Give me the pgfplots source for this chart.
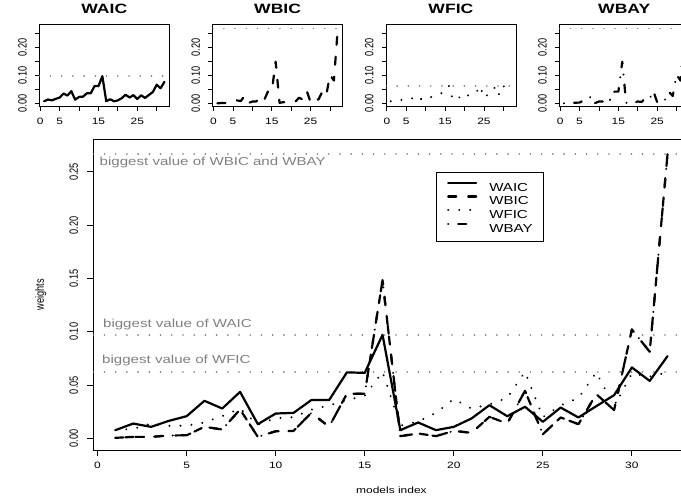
\documentclass[border=0pt]{standalone}
\usepackage{pgfplots}
\pgfplotsset{compat=1.18}
\usepackage{pgfplotstable}
\usepackage{graphicx}
\usepackage{fontspec}
\setmainfont{Liberation Sans}[FakeStretch=1.3]
\newfontfamily\plainsans{Liberation Sans}
\definecolor{rgray}{RGB}{128,128,128}
\newcommand{\tk}{\fontsize{9.2}{10}\selectfont}
\newcommand{\yl}[1]{\rotatebox{90}{\scalebox{1}[1.3]{\plainsans\fontsize{9.2}{10}\selectfont #1}}}

\pgfplotstableread{
x waic wbic wfic wbay
1 0.0078 0.0006 0.008 0.0006
2 0.0140 0.0015 0.009 0.0015
3 0.0109 0.0015 0.014 0.0015
4 0.0165 0.0028 0.012 0.0028
5 0.0209 0.0030 0.012 0.0030
6 0.0353 0.0110 0.015 0.0110
7 0.0281 0.0084 0.021 0.0084
8 0.0437 0.0272 0.028 0.0272
9 0.0134 0.0015 0.013 0.0015
10 0.0234 0.0068 0.019 0.0068
11 0.0240 0.0071 0.020 0.0071
12 0.0360 0.0240 0.027 0.0240
13 0.0360 0.0110 0.031 0.0110
14 0.0620 0.0420 0.036 0.0420
15 0.0615 0.0420 0.040 0.0420
16 0.0972 0.1485 0.0625 0.1485
17 0.0078 0.0022 0.012 0.0022
18 0.0150 0.0047 0.016 0.0047
19 0.0078 0.0022 0.024 0.0022
20 0.0109 0.0071 0.037 0.0071
21 0.0188 0.0053 0.028 0.0053
22 0.0312 0.0203 0.032 0.0203
23 0.0209 0.0140 0.038 0.0140
24 0.0297 0.0447 0.0625 0.0447
25 0.0156 0.0040 0.020 0.0040
26 0.0290 0.0197 0.031 0.0197
27 0.0197 0.0134 0.038 0.0134
28 0.0303 0.0416 0.062 0.0416
29 0.0406 0.0266 0.030 0.0266
30 0.0666 0.1022 0.061 0.1022
31 0.0540 0.0813 0.058 0.0813
32 0.0772 0.2665 0.062 0.2665
}\wdata

\pgfplotsset{
  waic/.style={black, line width=2.2pt, solid, line join=round, line cap=round},
  wbic/.style={black, line width=2.2pt, line join=round, line cap=round, dash pattern=on 8pt off 12pt},
  wfic/.style={black, line width=2.2pt, line join=round, line cap=round, dash pattern=on 0.01pt off 11pt},
  wbay/.style={black, line width=2.2pt, line join=round, line cap=round, dash pattern=on 0.01pt off 10pt on 8pt off 10.7pt},
  maxline/.style={rgray, line width=1.8pt, line cap=round, dash pattern=on 0.01pt off 11.2pt, forget plot},
  rbase/.style={
    scale only axis,
    xmin=-0.24, xmax=33.24, ymin=-0.0108, ymax=0.2808,
    axis line style={line width=0.8pt},
    tick style={line width=0.8pt, black},
    tick align=outside, tick pos=left,
    xtick={0,5,10,15,20,25,30},
    ytick={0,0.05,0.1,0.15,0.2,0.25},
    xticklabel style={font=\tk, inner sep=0pt, anchor=north},
    yticklabel style={inner sep=0pt, anchor=east},
  },
  small/.style={
    rbase, width=130pt, height=82pt,
    major tick length=4.3pt,
    xticklabels={0,5,,15,,25,},
    yticklabels={\yl{0.00},,\yl{0.10},,\yl{0.20},},
    xticklabel style={yshift=-7pt},
    yticklabel style={xshift=-8pt},
    title style={at={(axis description cs:0.5,1)}, anchor=center, yshift=9.5pt, inner sep=0pt, font=\bfseries\fontsize{13.5}{14}\selectfont},
  },
}

\begin{document}
\begin{tikzpicture}
\useasboundingbox (0pt,0pt) rectangle (681pt,498pt);
\clip (0pt,0pt) rectangle (681pt,498pt);

% ---------- small panels ----------
\begin{axis}[small, at={(39.3pt,391.5pt)}, anchor=south west, title={WAIC}]
  \addplot[maxline] coordinates {(-0.24,0.0972) (33.24,0.0972)};
  \addplot[waic] table[x=x, y=waic] {\wdata};
\end{axis}
\begin{axis}[small, at={(212.6pt,391.5pt)}, anchor=south west, title={WBIC}]
  \addplot[maxline] coordinates {(-0.24,0.2665) (33.24,0.2665)};
  \addplot[wbic] table[x=x, y=wbic] {\wdata};
\end{axis}
\begin{axis}[small, at={(385.9pt,391.5pt)}, anchor=south west, title={WFIC}]
  \addplot[maxline] coordinates {(-0.24,0.0625) (33.24,0.0625)};
  \addplot[wfic] table[x=x, y=wfic] {\wdata};
\end{axis}
\begin{axis}[small, at={(559.2pt,391.5pt)}, anchor=south west, title={WBAY}]
  \addplot[maxline] coordinates {(-0.24,0.2665) (33.24,0.2665)};
  \addplot[wbay] table[x=x, y=wbay] {\wdata};
\end{axis}

% ---------- main panel ----------
\begin{axis}[rbase, at={(93.3pt,48pt)}, anchor=south west,
  width=596.3pt, height=311pt,
  major tick length=6pt,
  xticklabels={0,5,10,15,20,25,30},
  yticklabels={\yl{0.00},\yl{0.05},\yl{0.10},\yl{0.15},\yl{0.20},\yl{0.25}},
  xticklabel style={yshift=-6pt},
  yticklabel style={xshift=-9pt},
  xlabel={models index},
  xlabel style={at={(axis description cs:0.5,-0.13)}, anchor=center, inner sep=0pt, font=\tk},
  ylabel={\scalebox{1}[1.3]{\plainsans\fontsize{9.2}{10}\selectfont weights}},
  ylabel style={at={(axis description cs:-0.088,0.5)}, anchor=center, inner sep=0pt},
  legend style={at={(0.5742,0.8929)}, anchor=north west, draw=black, line width=0.8pt, fill=white,
    font=\fontsize{11.6}{12.6}\selectfont, inner xsep=11pt, inner ysep=9pt, row sep=4.2pt,
    nodes={inner sep=0pt, text height=8.4pt, text depth=0pt},
    /tikz/every odd column/.append style={column sep=12pt}},
  legend cell align=left,
  legend image code/.code={\draw[#1] (0pt,4.2pt) -- (28pt,4.2pt);},
]
  \addplot[maxline] coordinates {(-0.24,0.2665) (33.24,0.2665)};
  \addplot[maxline] coordinates {(-0.24,0.0972) (33.24,0.0972)};
  \addplot[maxline] coordinates {(-0.24,0.0625) (33.24,0.0625)};
  \addplot[waic] table[x=x, y=waic] {\wdata};
  \addplot[wbic] table[x=x, y=wbic] {\wdata};
  \addplot[wfic] table[x=x, y=wfic] {\wdata};
  \addplot[wbay] table[x=x, y=wbay] {\wdata};
  \legend{WAIC,WBIC,WFIC,WBAY}
  \node[anchor=base west, inner sep=0pt, text=rgray, font=\fontsize{11.6}{12}\selectfont] at (axis cs:0.11,0.2564) {biggest value of WBIC and WBAY};
  \node[anchor=base west, inner sep=0pt, text=rgray, font=\fontsize{11.6}{12}\selectfont] at (axis cs:0.30,0.1041) {biggest value of WAIC};
  \node[anchor=base west, inner sep=0pt, text=rgray, font=\fontsize{11.6}{12}\selectfont] at (axis cs:0.25,0.0704) {biggest value of WFIC};
\end{axis}
\end{tikzpicture}
\end{document}
